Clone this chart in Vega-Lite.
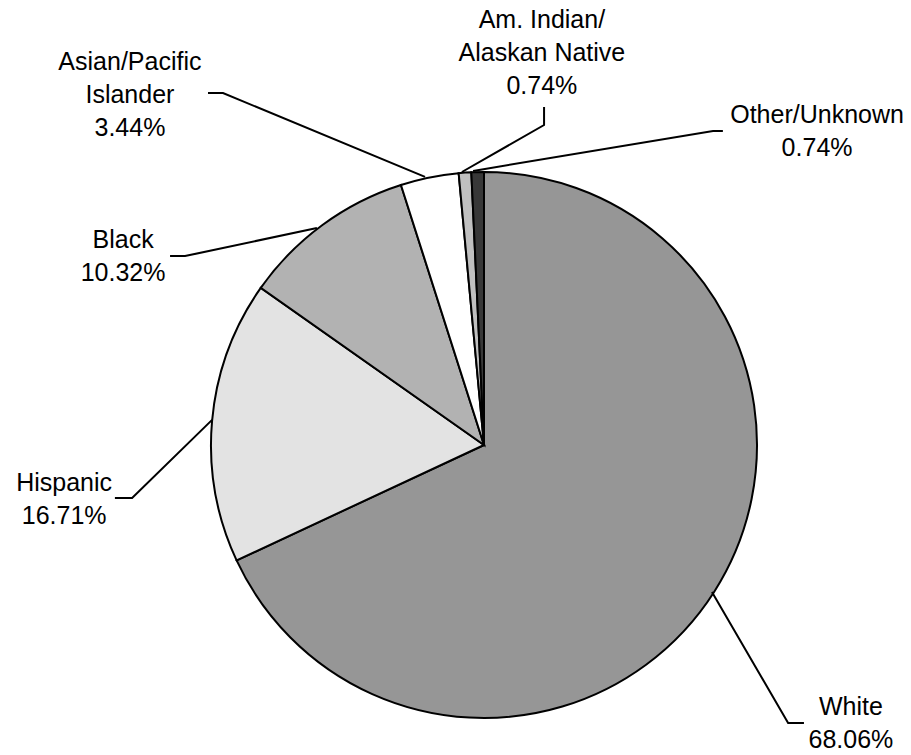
{
  "$schema": "https://vega.github.io/schema/vega-lite/v6.json",
  "width": 911,
  "height": 755,
  "padding": 0,
  "autosize": {"type": "none"},
  "background": "white",
  "config": {"view": {"stroke": null}},
  "datasets": {
    "slices": [
      {"group": "White", "pct": 68.06, "ord": 1},
      {"group": "Hispanic", "pct": 16.71, "ord": 2},
      {"group": "Black", "pct": 10.32, "ord": 3},
      {"group": "Asian/Pacific Islander", "pct": 3.44, "ord": 4},
      {"group": "Am. Indian/Alaskan Native", "pct": 0.74, "ord": 5},
      {"group": "Other/Unknown", "pct": 0.74, "ord": 6}
    ],
    "labels": [
      {"label": "White\n68.06%", "u": 1.344, "v": -0.96},
      {"label": "Hispanic\n16.71%", "u": -1.538, "v": -0.139},
      {"label": "Black\n10.32%", "u": -1.322, "v": 0.751},
      {"label": "Asian/Pacific\nIslander\n3.44%", "u": -1.297, "v": 1.403},
      {"label": "Am. Indian/\nAlaskan Native\n0.74%", "u": 0.212, "v": 1.557},
      {"label": "Other/Unknown\n0.74%", "u": 1.22, "v": 1.209}
    ],
    "leaders": [
      {"line": "White", "seq": 1, "u": 1.172, "v": -1.018},
      {"line": "White", "seq": 2, "u": 1.114, "v": -1.018},
      {"line": "White", "seq": 3, "u": 0.835, "v": -0.538},
      {"line": "Hispanic", "seq": 1, "u": -1.352, "v": -0.194},
      {"line": "Hispanic", "seq": 2, "u": -1.289, "v": -0.194},
      {"line": "Hispanic", "seq": 3, "u": -0.996, "v": 0.092},
      {"line": "Black", "seq": 1, "u": -1.15, "v": 0.692},
      {"line": "Black", "seq": 2, "u": -1.095, "v": 0.692},
      {"line": "Black", "seq": 3, "u": -0.612, "v": 0.795},
      {"line": "Asian", "seq": 1, "u": -1.011, "v": 1.289},
      {"line": "Asian", "seq": 2, "u": -0.956, "v": 1.289},
      {"line": "Asian", "seq": 3, "u": -0.216, "v": 0.982},
      {"line": "AmIndian", "seq": 1, "u": 0.22, "v": 1.238},
      {"line": "AmIndian", "seq": 2, "u": 0.22, "v": 1.172},
      {"line": "AmIndian", "seq": 3, "u": -0.081, "v": 1.0},
      {"line": "Other", "seq": 1, "u": 0.875, "v": 1.15},
      {"line": "Other", "seq": 2, "u": 0.839, "v": 1.15},
      {"line": "Other", "seq": 3, "u": -0.04, "v": 1.004}
    ]
  },
  "layer": [
    {
      "data": {"name": "slices"},
      "mark": {"type": "arc", "outerRadius": 273, "stroke": "black", "strokeWidth": 2},
      "encoding": {
        "x": {"datum": 0, "type": "quantitative", "scale": {"domain": [-1.7729, 1.5641], "nice": false, "zero": false}, "axis": null},
        "y": {"datum": 0, "type": "quantitative", "scale": {"domain": [-1.1355, 1.63], "nice": false, "zero": false}, "axis": null},
        "theta": {"field": "pct", "type": "quantitative", "stack": true},
        "order": {"field": "ord", "type": "quantitative"},
        "color": {
          "field": "group",
          "type": "nominal",
          "legend": null,
          "scale": {
            "domain": ["White", "Hispanic", "Black", "Asian/Pacific Islander", "Am. Indian/Alaskan Native", "Other/Unknown"],
            "range": ["#969696", "#e3e3e3", "#b2b2b2", "#ffffff", "#c0c0c0", "#383838"]
          }
        }
      }
    },
    {
      "data": {"name": "leaders"},
      "mark": {"type": "line", "color": "black", "strokeWidth": 2},
      "encoding": {
        "x": {"field": "u", "type": "quantitative"},
        "y": {"field": "v", "type": "quantitative"},
        "detail": {"field": "line"},
        "order": {"field": "seq"}
      }
    },
    {
      "data": {"name": "labels"},
      "mark": {"type": "text", "font": "Liberation Sans", "fontSize": 25, "lineHeight": 33, "lineBreak": "\n", "align": "center", "baseline": "middle", "color": "black"},
      "encoding": {
        "x": {"field": "u", "type": "quantitative"},
        "y": {"field": "v", "type": "quantitative"},
        "text": {"field": "label"}
      }
    }
  ]
}
